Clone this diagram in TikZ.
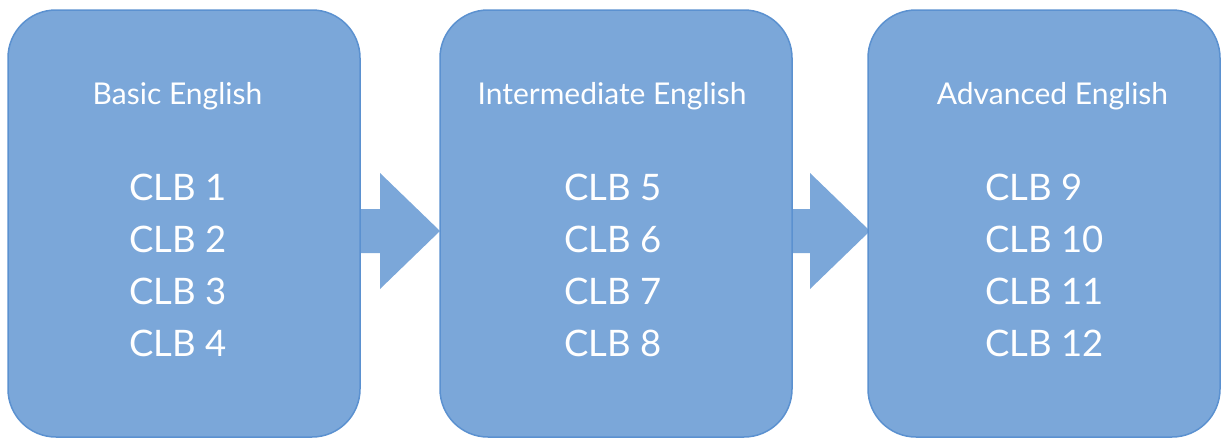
\documentclass[tikz,border=0pt]{standalone}
\usepackage{fontspec}
\setmainfont{Lato}
\definecolor{boxfill}{RGB}{123,167,217}
\definecolor{boxline}{RGB}{91,145,208}
\tikzset{
  level/.style={draw=boxline, fill=boxfill, line width=1.5pt, rounded corners=48pt,
    minimum width=352pt, minimum height=427pt, inner sep=0pt},
  heading/.style={text=white, anchor=base, font=\fontsize{30}{36}\selectfont},
  clblist/.style={text=white, anchor=base west, align=left, inner sep=0pt,
    font=\fontsize{36.5}{52}\selectfont}
}
\begin{document}
\begin{tikzpicture}[x=1pt,y=-1pt]
  \useasboundingbox (0,0) rectangle (1225,439);
  % arrows first, the boxes cover their ends
  \foreach \sx/\ex in {360/440, 792/870}
    \fill[boxfill] (\sx,209) -- (\ex-60,209) -- (\ex-60,173) -- (\ex,231)
      -- (\ex-60,289) -- (\ex-60,253) -- (\sx,253) -- cycle;
  % the three levels
  \node[level] (basic) at (184,223.5) {};
  \node[level] (inter) at (616,223.5) {};
  \node[level] (adv) at (1044,223.5) {};
  \node[heading] (tbasic) at (177.5,104) {Basic English};
  \node[heading] (tinter) at (612,104) {Intermediate English};
  \node[heading] (tadv) at (1052.5,104) {Advanced English};
  % base anchor sits on the last line
  \node[clblist] (lbasic) at (129,356) {CLB 1\\CLB 2\\CLB 3\\CLB 4};
  \node[clblist] (linter) at (564,356) {CLB 5\\CLB 6\\CLB 7\\CLB 8};
  \node[clblist] (ladv) at (985,356) {CLB 9\\CLB 10\\CLB 11\\CLB 12};
\end{tikzpicture}
\end{document}
